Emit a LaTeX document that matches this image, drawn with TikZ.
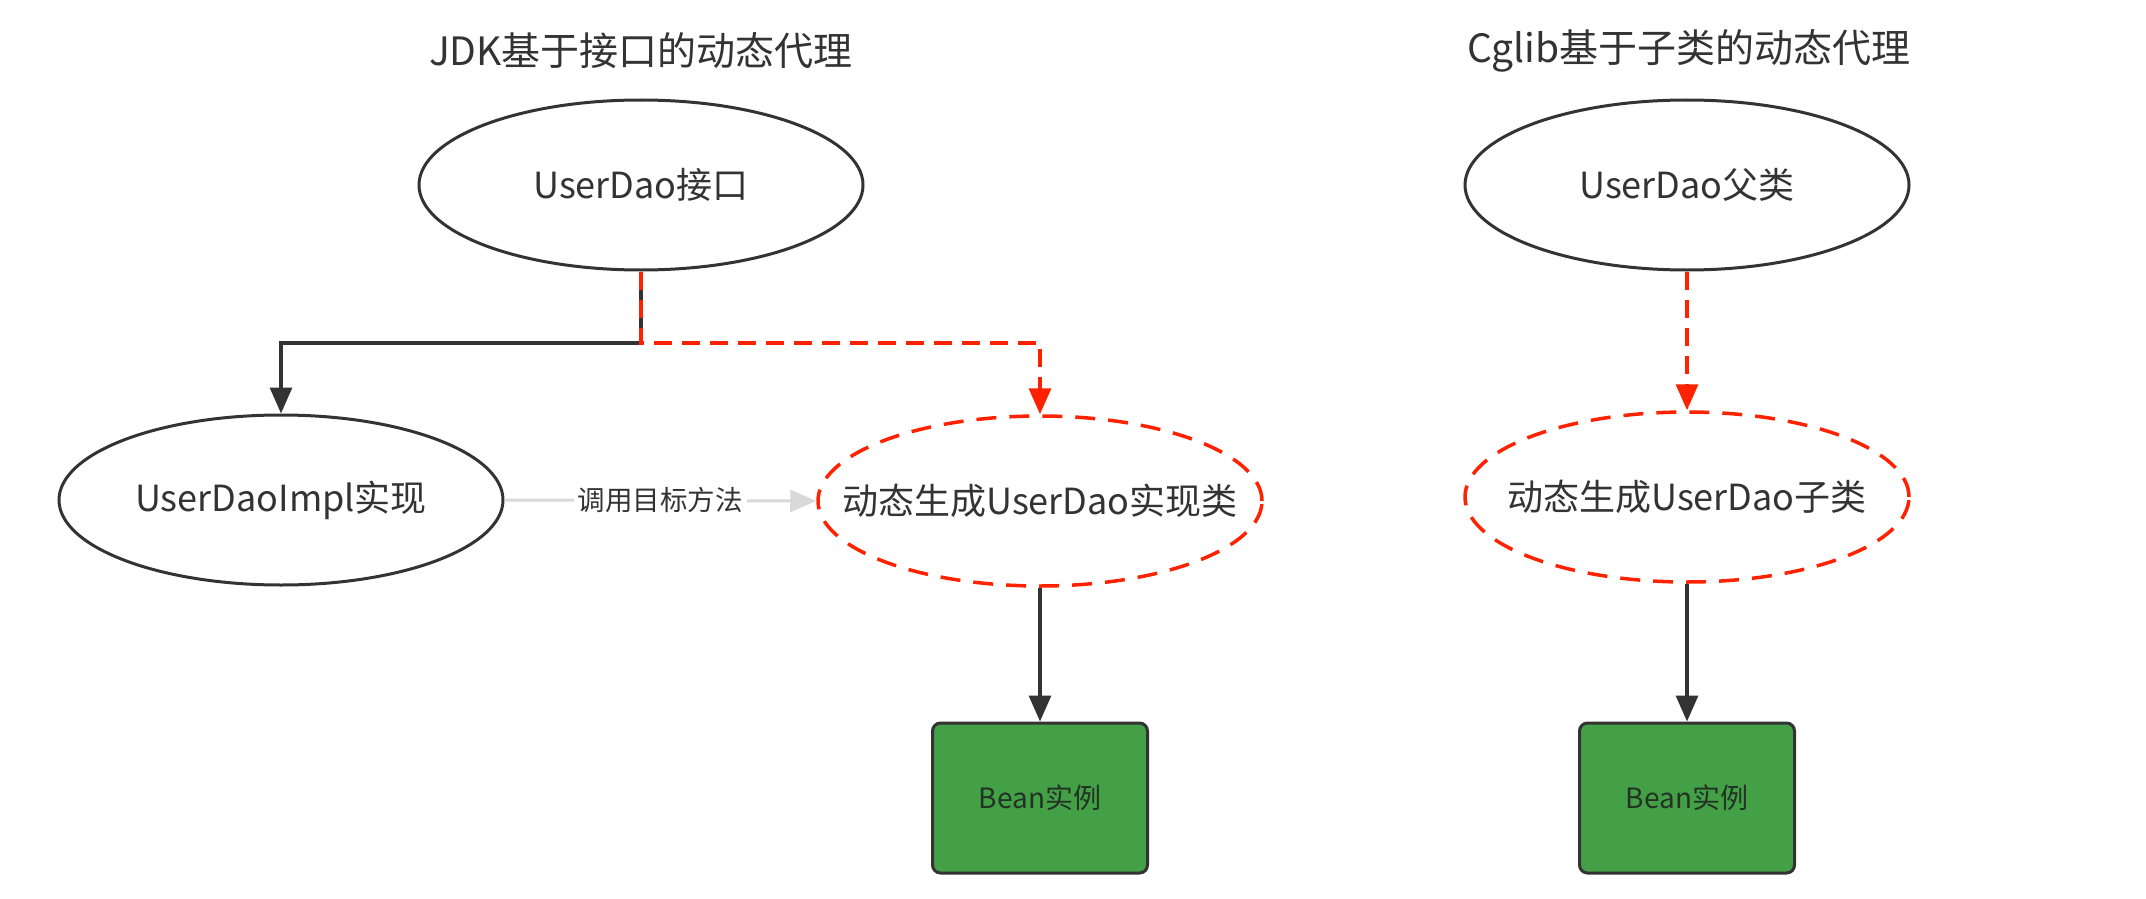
\documentclass[tikz,border=0pt]{standalone}
\usepackage{fontspec}
\setmainfont{Noto Sans CJK SC}
\usetikzlibrary{shapes.geometric,arrows.meta}
\definecolor{inkgray}{RGB}{51,51,51}
\definecolor{proxyred}{RGB}{255,34,0}
\definecolor{beangreen}{RGB}{67,160,71}
\definecolor{callgray}{RGB}{217,217,217}
\newcommand{\ovaltext}[1]{\makebox[0pt]{#1}}

\begin{document}
\begin{tikzpicture}[x=0.5pt,y=-0.5pt,>={Triangle[length=13pt,width=11pt]}]
	\tikzstyle{title} = [text=inkgray, font=\fontsize{19.5pt}{23pt}\selectfont]
	\tikzstyle{ovals} = [ellipse, minimum width=222pt, minimum height=85pt, inner sep=0pt, text=inkgray, font=\fontsize{18pt}{22pt}\selectfont]
	\tikzstyle{plain} = [ovals, draw=inkgray, line width=1.5pt]
	\tikzstyle{proxy} = [ovals, draw=proxyred, line width=1.75pt, dash pattern=on 10pt off 6.5pt]
	\tikzstyle{bean} = [rectangle, rounded corners=4pt, minimum width=107.5pt, minimum height=75pt, draw=inkgray, fill=beangreen, line width=1.5pt, text={rgb,255:red,35;green,50;blue,35}, font=\fontsize{14pt}{17pt}\selectfont]
	\tikzstyle{link} = [->, draw=inkgray, line width=1.6pt]
	\tikzstyle{proxylink} = [->, draw=proxyred, line width=1.75pt, dash pattern=on 9pt off 5pt]
	\tikzstyle{call} = [->, draw=callgray, line width=1.5pt]
	\tikzstyle{calltext} = [fill=white, inner sep=2pt, text=inkgray, font=\fontsize{13.75pt}{16pt}\selectfont]

	\useasboundingbox (0,0) rectangle (2146,899);

	\node[title] (JdkTitle) at (641,51) {JDK基于接口的动态代理};
	\node[title] (CglibTitle) at (1689,51) {Cglib基于子类的动态代理};

	\node[plain] (Iface) at (641,185) {UserDao接口};
	\node[plain] (Impl) at (281,500) {UserDaoImpl实现};
	\node[proxy] (GenImpl) at (1040,501) {\ovaltext{动态生成UserDao实现类}};
	\node[bean] (BeanJdk) at (1040,798) {Bean实例};
	\coordinate (split) at (641,343);

	\node[plain] (Super) at (1687,185) {UserDao父类};
	\node[proxy] (GenSub) at (1687,497) {\ovaltext{动态生成UserDao子类}};
	\node[bean] (BeanCglib) at (1687,798) {Bean实例};

	\draw[link] (Iface.south) -- (split) -| (Impl.north);
	\draw[proxylink] (Iface.south) -- (split) -| (GenImpl.north);
	\draw[call] (Impl.east) -- node[calltext] (CallLabel) {调用目标方法} (GenImpl.west);
	\draw[link] (GenImpl.south) -- (BeanJdk.north);

	\draw[proxylink] (Super.south) -- (GenSub.north);
	\draw[link] (GenSub.south) -- (BeanCglib.north);
\end{tikzpicture}
\end{document}
